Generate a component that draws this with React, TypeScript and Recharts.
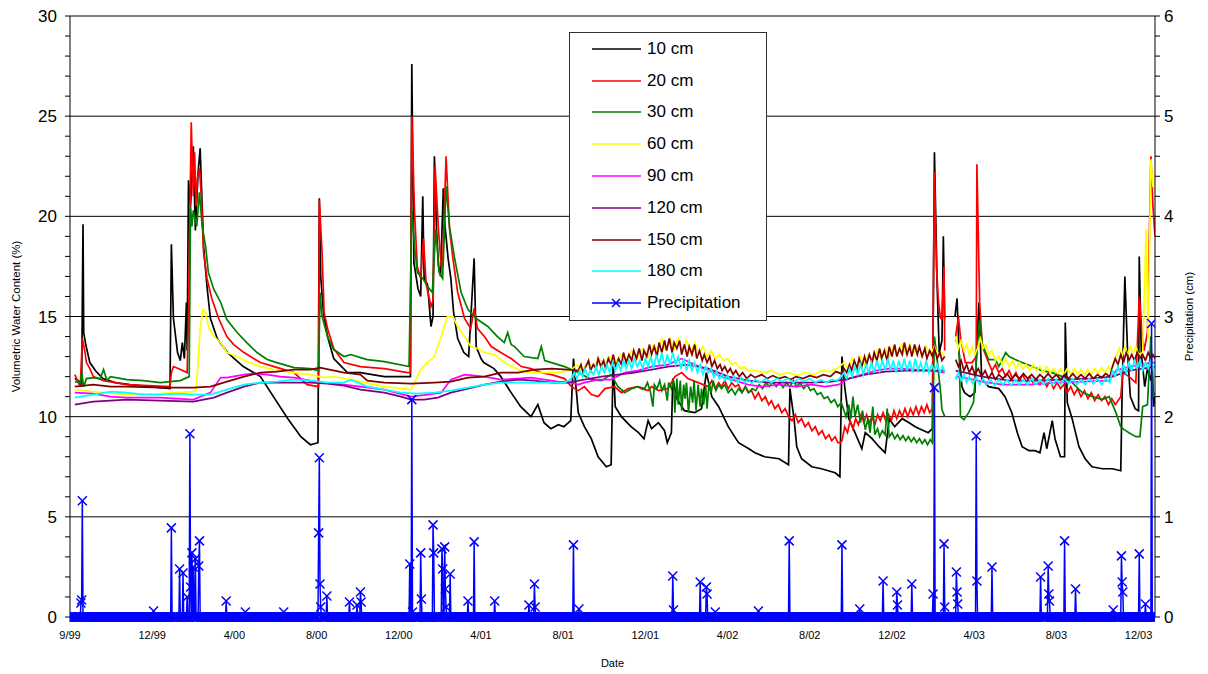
import React from "react";
import { LineChart, Line, XAxis, YAxis, CartesianGrid, Legend } from "recharts";

const FONT = '"Liberation Sans", Arial, sans-serif';

// x axis: days since 1 Sep 1999, a label every 120 days
const dateLabels = ["9/99", "12/99", "4/00", "8/00", "12/00", "4/01", "8/01", "12/01", "4/02", "8/02", "12/02", "4/03", "8/03", "12/03"];
const dateTicks = dateLabels.map((_, i) => i * 120);
const LAST_DAY = 1584;

type Pt = [number, number | null];

// volumetric water content (%) by depth: [day, value]
const vwc10: Pt[] = [
  [7, 11.9], [12, 11.8], [17, 11.6], [19, 19.6], [20, 14.2], [23, 13.6], [29, 12.7], [37, 12.3], [48, 11.9], [66, 11.7], [88, 11.6], [117, 11.5], [146, 11.4],
  [148, 18.6], [151, 14.9], [157, 13.2], [161, 12.8], [164, 13.7], [167, 12.9], [170, 15.7], [171, 13.3], [173, 21.8], [176, 20.5], [180, 23.5], [183, 19.3],
  [187, 22.2], [190, 23.4], [193, 20.5], [195, 18.5], [200, 16.5], [205, 14.9], [215, 13.9], [230, 13.2], [253, 12.5], [278, 12.0], [297, 11.0], [318, 9.9],
  [337, 9.0], [351, 8.6], [362, 8.7], [364, 20.9], [366, 17.0], [370, 15.2], [376, 14.0], [385, 12.9], [405, 12.2], [424, 12.2], [459, 12.0], [497, 12.0],
  [499, 27.6], [502, 17.7], [508, 16.4], [512, 16.0], [515, 21.0], [517, 16.9], [522, 16.6], [527, 14.5], [530, 15.0], [532, 23.0], [535, 19.4], [538, 17.5],
  [541, 17.0], [545, 21.4], [547, 19.7], [552, 17.9], [556, 16.9], [560, 15.2], [566, 13.9], [575, 13.2], [582, 13.0], [590, 17.9], [593, 13.5], [600, 12.9],
  [604, 12.7], [619, 12.4], [629, 12.0], [644, 11.2], [658, 10.5], [673, 10.0], [683, 10.6], [692, 9.7], [702, 9.4], [713, 9.6], [721, 9.5], [731, 9.8],
  [735, 12.9], [742, 10.2], [751, 9.5], [761, 8.9], [771, 8.0], [783, 7.5], [790, 7.6], [793, 12.8], [796, 10.5], [805, 10.0], [819, 9.5], [830, 9.2],
  [838, 8.9], [844, 9.8], [849, 9.4], [859, 9.7], [868, 9.3], [872, 8.7], [878, 9.2], [880, 11.9], [886, 10.9], [897, 10.3], [912, 10.2], [922, 10.4],
  [929, 12.2], [937, 11.0], [947, 10.5], [961, 9.5], [976, 8.7], [991, 8.4], [1000, 8.2], [1014, 8.0], [1035, 7.9], [1049, 7.6], [1051, 11.4], [1057, 9.9],
  [1061, 8.5], [1068, 7.9], [1083, 7.5], [1097, 7.4], [1117, 7.2], [1124, 7.0], [1127, 13.0], [1131, 11.5], [1137, 9.9], [1146, 9.2], [1156, 8.4], [1161, 9.2],
  [1171, 8.9], [1181, 8.5], [1190, 8.2], [1196, 9.9], [1204, 9.5], [1215, 9.9], [1225, 9.7], [1234, 9.5], [1240, 9.4], [1253, 9.2], [1259, 9.4], [1262, 23.2],
  [1266, 16.5], [1269, 13.2], [1273, 13.8], [1275, 19.0], [1277, 14.9], [1285, null], [1292, 15.0], [1295, 15.9], [1298, 13.2], [1302, 11.5], [1306, 11.2],
  [1314, 11.0], [1321, 11.2], [1324, 13.5], [1327, 15.7], [1331, 11.9], [1341, 11.5], [1356, 11.4], [1365, 11.0], [1375, 10.2], [1383, 9.2], [1390, 8.5],
  [1400, 8.3], [1409, 8.3], [1416, 8.2], [1422, 9.2], [1426, 8.4], [1434, 9.8], [1438, 8.9], [1446, 8.0], [1452, 8.0], [1453, 14.7], [1456, 10.7], [1463, 9.9],
  [1473, 8.5], [1482, 7.9], [1492, 7.5], [1507, 7.4], [1522, 7.4], [1534, 7.3], [1536, 11.2], [1540, 17.0], [1544, 13.2], [1548, 11.0], [1555, 10.4],
  [1560, 10.3], [1561, 18.0], [1564, 13.2], [1569, 11.5], [1573, 12.4], [1578, 11.8], [1580, 12.5], [1582, 10.5], [1584, 11.0],
];

const vwc20: Pt[] = [
  [7, 12.1], [15, 11.5], [18, 13.9], [22, 13.2], [24, 12.7], [29, 12.4], [34, 12.0], [49, 11.8], [83, 11.6], [146, 11.5], [148, 12.2], [151, 12.5], [158, 12.4],
  [171, 12.2], [173, 15.0], [177, 24.7], [180, 21.0], [182, 23.2], [184, 20.5], [186, 21.9], [189, 22.4], [192, 20.8], [195, 18.2], [200, 16.9], [207, 15.9],
  [217, 14.9], [229, 14.0], [239, 13.6], [254, 13.2], [278, 12.7], [298, 12.5], [327, 12.2], [346, 11.6], [363, 11.5], [364, 20.8], [368, 18.2], [371, 15.2],
  [376, 14.4], [385, 13.4], [400, 12.7], [424, 12.5], [459, 12.4], [493, 12.2], [497, 12.2], [499, 25.0], [503, 20.2], [507, 17.5], [512, 16.9], [516, 18.9],
  [520, 16.6], [527, 15.5], [530, 15.8], [533, 22.5], [538, 19.3], [542, 17.5], [544, 17.5], [549, 23.0], [554, 19.4], [559, 17.9], [566, 16.2], [576, 14.9],
  [585, 14.4], [590, 15.4], [595, 14.4], [605, 14.0], [615, 13.5], [629, 13.2], [644, 12.9], [659, 12.5], [673, 12.4], [688, 12.2], [703, 12.1], [722, 11.9],
  [732, 11.5], [742, 11.3], [751, 11.5], [761, 11.1], [771, 11.0], [781, 11.4], [795, 11.5], [805, 11.2], [815, 11.4], [829, 11.5], [834, 11.4], [844, 11.3],
  [849, 11.5], [859, 11.3], [873, 11.4], [883, 12.0], [893, 12.2], [902, 11.9], [917, 11.7], [932, 11.5], [937, 11.8], [942, 11.4], [947, 11.7], [951, 11.5],
  [956, 11.8], [961, 11.4], [966, 11.7], [971, 11.5], [976, 11.6], [981, 11.2], [986, 11.5], [990, 11.2], [995, 11.3], [1000, 10.9], [1005, 11.2], [1010, 10.8],
  [1015, 11.0], [1020, 10.6], [1024, 10.8], [1029, 10.4], [1034, 10.6], [1039, 10.2], [1044, 10.4], [1049, 10.0], [1054, 9.8], [1059, 10.1], [1063, 9.7],
  [1068, 9.9], [1073, 9.5], [1078, 9.7], [1083, 9.3], [1088, 9.5], [1093, 9.1], [1098, 9.3], [1103, 8.9], [1108, 9.1], [1112, 8.8], [1117, 9.0], [1121, 8.7],
  [1124, 8.7], [1127, 8.8], [1131, 9.5], [1135, 9.2], [1139, 9.8], [1143, 9.4], [1147, 9.9], [1151, 9.6], [1155, 10.1], [1159, 9.7], [1163, 10.1], [1167, 9.7],
  [1171, 10.0], [1175, 9.6], [1179, 10.1], [1183, 9.8], [1187, 10.2], [1191, 9.8], [1195, 10.1], [1199, 9.8], [1203, 10.3], [1207, 9.9], [1211, 10.3],
  [1215, 10.0], [1219, 10.4], [1223, 10.0], [1227, 10.4], [1231, 10.1], [1235, 10.5], [1239, 10.1], [1243, 10.5], [1247, 10.2], [1251, 10.6], [1255, 10.2],
  [1259, 10.4], [1262, 22.2], [1265, 17.4], [1268, 15.7], [1271, 14.9], [1273, 14.9], [1276, 17.5], [1277, 13.3], [1285, null], [1293, 14.0], [1297, 15.0],
  [1300, 14.0], [1307, 12.7], [1317, 12.7], [1323, 13.0], [1324, 22.6], [1328, 15.7], [1332, 13.5], [1341, 12.7], [1346, 12.3], [1351, 12.6], [1356, 12.2],
  [1361, 12.4], [1366, 12.0], [1371, 12.3], [1376, 11.9], [1381, 12.2], [1386, 11.8], [1391, 12.1], [1396, 11.7], [1401, 12.0], [1406, 11.7], [1411, 11.9],
  [1416, 11.6], [1421, 11.9], [1426, 11.5], [1431, 11.8], [1436, 11.4], [1441, 11.7], [1446, 11.4], [1451, 11.6], [1456, 11.2], [1461, 11.5], [1466, 11.1],
  [1471, 11.4], [1476, 11.0], [1481, 11.3], [1486, 10.9], [1491, 11.2], [1496, 10.8], [1501, 11.1], [1506, 10.8], [1511, 11.0], [1516, 10.6], [1521, 10.9],
  [1526, 10.6], [1530, 10.8], [1534, 11.0], [1537, 12.2], [1546, 12.0], [1556, 11.7], [1561, 16.0], [1565, 14.2], [1568, 13.3], [1573, 14.2], [1578, 23.0],
  [1581, 20.5], [1584, 19.0],
];

const vwc30: Pt[] = [
  [7, 11.75], [15, 11.7], [17, 12.2], [20, 11.5], [24, 11.9], [34, 11.95], [44, 11.9], [49, 12.35], [54, 11.8], [59, 12.0], [83, 11.85], [107, 11.8], [132, 11.7],
  [146, 11.75], [161, 11.8], [174, 12.0], [176, 20.5], [178, 19.5], [180, 20.3], [183, 19.8], [185, 19.5], [189, 21.2], [193, 19.5], [198, 18.5], [202, 17.2],
  [210, 16.35], [220, 15.7], [229, 14.85], [244, 14.2], [258, 13.7], [273, 13.2], [288, 12.85], [302, 12.7], [327, 12.45], [351, 12.4], [363, 12.3], [365, 16.2],
  [368, 15.0], [376, 14.0], [385, 13.35], [400, 13.0], [410, 13.1], [424, 12.95], [434, 12.85], [459, 12.75], [495, 12.5], [499, 20.35], [503, 18.5], [507, 17.2],
  [515, 16.9], [522, 16.5], [529, 16.2], [534, 19.35], [539, 17.2], [544, 16.9], [549, 21.5], [554, 19.5], [561, 18.0], [571, 16.2], [581, 15.35], [595, 14.85],
  [610, 14.5], [624, 14.0], [634, 13.7], [639, 14.2], [644, 13.6], [649, 13.5], [663, 13.0], [683, 12.9], [688, 13.5], [693, 12.8], [703, 12.7], [722, 12.5],
  [742, 12.2], [761, 11.85], [776, 11.8], [790, 12.1], [800, 11.5], [810, 11.2], [820, 11.4], [829, 11.5], [839, 11.4], [843, 11.7], [847, 11.3], [851, 10.5],
  [853, 11.6], [857, 11.4], [861, 11.8], [864, 11.3], [868, 11.6], [872, 10.8], [874, 11.7], [878, 11.4], [881, 11.8], [883, 10.2], [886, 11.9], [888, 10.6],
  [891, 11.8], [893, 10.3], [896, 11.6], [898, 10.9], [900, 11.7], [903, 10.2], [906, 11.5], [909, 10.7], [911, 11.8], [914, 10.3], [917, 11.6], [920, 10.5],
  [922, 11.4], [925, 10.6], [928, 11.5], [930, 10.4], [933, 11.7], [936, 11.2], [939, 11.8], [943, 11.3], [947, 11.6], [951, 11.4], [956, 11.6], [961, 11.2],
  [966, 11.4], [971, 11.1], [976, 11.4], [981, 11.2], [986, 11.5], [991, 11.2], [996, 11.4], [1001, 11.3], [1006, 11.6], [1011, 11.4], [1016, 11.7], [1021, 11.5],
  [1026, 11.75], [1031, 11.5], [1036, 11.7], [1041, 11.45], [1046, 11.7], [1051, 11.5], [1056, 11.8], [1061, 11.5], [1066, 11.7], [1071, 11.4], [1076, 11.6],
  [1081, 11.3], [1086, 11.4], [1091, 11.1], [1096, 11.2], [1101, 10.9], [1106, 11.0], [1111, 10.7], [1116, 10.85], [1121, 10.5], [1126, 10.7], [1129, 10.4],
  [1133, 10.0], [1137, 10.6], [1140, 9.9], [1143, 11.0], [1146, 10.0], [1150, 10.6], [1154, 9.7], [1157, 10.3], [1161, 9.35], [1165, 9.9], [1168, 9.2],
  [1172, 10.5], [1175, 9.1], [1179, 9.4], [1182, 9.0], [1186, 9.3], [1190, 9.1], [1193, 10.4], [1196, 9.0], [1200, 9.2], [1204, 8.9], [1208, 9.1], [1212, 8.85],
  [1216, 9.05], [1220, 8.8], [1224, 9.0], [1228, 8.75], [1232, 8.95], [1236, 8.7], [1240, 8.9], [1244, 8.65], [1248, 8.85], [1252, 8.6], [1256, 8.85], [1259, 8.7],
  [1262, 14.0], [1266, 12.85], [1271, 11.2], [1273, 10.35], [1277, 10.0], [1285, null], [1293, 13.85], [1298, 13.5], [1300, 10.0], [1305, 9.85], [1312, 10.2],
  [1319, 10.7], [1324, 13.2], [1328, 14.85], [1332, 13.6], [1341, 12.85], [1351, 12.85], [1356, 12.5], [1366, 13.2], [1371, 13.0], [1380, 12.85], [1390, 12.7],
  [1405, 12.5], [1419, 12.3], [1434, 12.2], [1449, 12.0], [1463, 11.7], [1478, 11.2], [1493, 11.0], [1507, 10.85], [1517, 11.0], [1527, 10.2], [1534, 9.5],
  [1539, 9.35], [1546, 9.2], [1556, 9.0], [1562, 9.0], [1566, 10.5], [1573, 10.6], [1578, 14.0], [1581, 11.0], [1584, 11.2],
];

const vwc60: Pt[] = [
  [7, 11.35], [34, 11.25], [83, 11.1], [132, 11.15], [180, 11.25], [184, 11.3], [188, 13.2], [190, 14.35], [194, 15.35], [198, 15.2], [202, 14.5], [210, 14.0],
  [220, 13.7], [229, 13.2], [244, 13.0], [258, 12.75], [278, 12.5], [298, 12.35], [327, 12.2], [351, 12.1], [370, 11.95], [385, 12.0], [410, 11.85], [459, 11.5],
  [498, 11.35], [505, 11.85], [512, 12.35], [522, 12.7], [532, 13.0], [542, 14.0], [551, 15.0], [559, 15.0], [566, 14.5], [576, 14.0], [585, 13.5], [595, 13.4],
  [605, 13.2], [620, 13.1], [634, 12.7], [654, 12.35], [673, 12.2], [693, 12.2], [712, 12.2], [732, 12.35], [740, 12.6], [748, 12.3], [756, 12.7], [764, 12.5],
  [772, 12.9], [780, 12.6], [788, 13.0], [796, 12.7], [804, 13.1], [812, 12.8], [820, 13.3], [828, 12.9], [836, 13.4], [844, 13.0], [852, 13.6], [858, 13.2],
  [864, 13.9], [870, 13.3], [876, 13.9], [882, 13.4], [888, 13.9], [894, 13.3], [900, 13.8], [906, 13.2], [912, 13.7], [918, 13.1], [924, 13.5], [930, 13.0],
  [936, 13.3], [942, 12.9], [948, 13.1], [954, 12.8], [960, 12.9], [966, 12.6], [972, 12.7], [978, 12.4], [984, 12.5], [990, 12.3], [1000, 12.3], [1012, 12.2],
  [1024, 12.3], [1036, 12.1], [1049, 12.2], [1061, 12.05], [1073, 12.2], [1086, 12.1], [1098, 12.3], [1110, 12.25], [1122, 12.45], [1130, 12.7], [1136, 12.4],
  [1142, 12.9], [1148, 12.5], [1154, 13.0], [1160, 12.6], [1166, 13.1], [1172, 12.8], [1178, 13.3], [1184, 12.9], [1190, 13.4], [1196, 13.0], [1202, 13.5],
  [1208, 13.1], [1214, 13.6], [1220, 13.2], [1226, 13.6], [1232, 13.2], [1238, 13.5], [1244, 13.1], [1250, 13.5], [1256, 13.1], [1262, 13.5], [1268, 13.0],
  [1273, 13.2], [1277, 13.0], [1285, null], [1293, 14.0], [1297, 13.4], [1301, 13.8], [1305, 13.3], [1309, 13.6], [1313, 13.1], [1317, 13.5], [1321, 13.1],
  [1325, 13.4], [1329, 13.9], [1333, 13.4], [1337, 13.6], [1341, 13.1], [1346, 13.3], [1351, 12.8], [1356, 13.0], [1361, 12.6], [1366, 12.9], [1371, 12.5],
  [1376, 12.8], [1381, 12.4], [1386, 12.7], [1391, 12.4], [1396, 12.6], [1401, 12.3], [1406, 12.6], [1411, 12.3], [1416, 12.5], [1421, 12.2], [1426, 12.5],
  [1431, 12.2], [1436, 12.4], [1441, 12.1], [1446, 12.4], [1451, 12.1], [1456, 12.4], [1461, 12.1], [1466, 12.4], [1471, 12.1], [1476, 12.35], [1481, 12.1],
  [1486, 12.35], [1491, 12.1], [1496, 12.4], [1501, 12.15], [1506, 12.45], [1511, 12.2], [1516, 12.5], [1520, 12.3], [1524, 12.8], [1528, 13.1], [1532, 13.4],
  [1536, 13.0], [1540, 13.5], [1544, 13.1], [1548, 13.5], [1552, 13.2], [1556, 13.5], [1560, 13.1], [1566, 13.2], [1571, 19.35], [1574, 13.9], [1578, 22.85],
  [1581, 21.5], [1584, 21.3],
];

const vwc90: Pt[] = [
  [7, 11.2], [34, 11.15], [59, 11.0], [83, 10.95], [132, 10.95], [180, 10.85], [205, 11.2], [220, 11.95], [229, 11.95], [254, 12.1], [268, 12.15], [288, 12.1],
  [307, 12.0], [327, 11.95], [365, 11.7], [400, 11.6], [424, 11.5], [459, 11.35], [498, 11.0], [522, 11.1], [542, 11.2], [556, 11.85], [576, 12.1], [605, 12.0],
  [629, 11.85], [654, 11.9], [673, 11.95], [693, 11.85], [712, 11.75], [732, 11.7], [742, 11.6], [751, 11.7], [771, 11.85], [790, 11.85], [810, 12.2], [829, 12.3],
  [849, 12.5], [873, 12.6], [893, 12.9], [912, 12.6], [932, 12.3], [951, 12.0], [971, 11.8], [990, 11.6], [1010, 11.5], [1034, 11.6], [1059, 11.5], [1083, 11.6],
  [1102, 11.5], [1122, 11.6], [1137, 11.9], [1156, 12.1], [1176, 12.3], [1195, 12.4], [1215, 12.4], [1234, 12.35], [1259, 12.3], [1277, 12.2], [1285, null],
  [1293, 12.0], [1312, 11.9], [1332, 11.75], [1361, 11.6], [1400, 11.6], [1439, 11.7], [1478, 11.75], [1517, 11.8], [1527, 12.3], [1546, 12.5], [1566, 12.6],
  [1578, 12.7], [1584, 12.7],
];

const vwc120: Pt[] = [
  [7, 10.6], [34, 10.75], [59, 10.8], [83, 10.85], [132, 10.8], [180, 10.75], [210, 10.95], [229, 11.2], [254, 11.5], [278, 11.7], [327, 11.7], [351, 11.7],
  [376, 11.65], [400, 11.55], [424, 11.35], [459, 11.2], [483, 11.0], [498, 10.85], [517, 10.85], [537, 10.95], [556, 11.2], [581, 11.4], [605, 11.6], [629, 11.75],
  [654, 11.85], [678, 11.8], [703, 11.7], [727, 11.7], [751, 11.85], [776, 12.0], [800, 12.1], [824, 12.2], [849, 12.35], [873, 12.5], [902, 12.6], [932, 12.4],
  [961, 12.0], [990, 11.8], [1020, 11.7], [1049, 11.7], [1083, 11.7], [1112, 11.75], [1137, 11.9], [1161, 12.1], [1190, 12.25], [1220, 12.3], [1259, 12.3],
  [1277, 12.3], [1285, null], [1293, 12.3], [1332, 12.0], [1371, 11.8], [1410, 11.8], [1449, 11.85], [1488, 11.9], [1522, 12.0], [1546, 12.3], [1566, 12.4], [1584, 12.5],
];

const vwc150: Pt[] = [
  [7, 11.5], [34, 11.6], [59, 11.5], [83, 11.5], [132, 11.45], [180, 11.45], [205, 11.5], [229, 11.75], [254, 12.0], [278, 12.2], [302, 12.25], [327, 12.35],
  [351, 12.35], [365, 12.45], [400, 12.2], [424, 12.1], [434, 11.8], [459, 11.7], [498, 11.65], [532, 11.7], [556, 11.75], [581, 11.95], [605, 12.0], [629, 12.2],
  [654, 12.2], [678, 12.35], [703, 12.4], [727, 12.35], [742, 12.3], [746, 12.6], [749, 12.2], [753, 12.5], [757, 12.8], [760, 12.3], [764, 12.6], [768, 12.4],
  [771, 12.9], [775, 12.5], [779, 12.8], [782, 12.4], [786, 12.9], [790, 12.6], [793, 13.1], [797, 12.5], [801, 12.9], [805, 12.6], [808, 13.2], [812, 12.7],
  [816, 13.1], [820, 12.8], [823, 13.3], [827, 12.9], [831, 13.4], [835, 12.8], [838, 13.3], [842, 13.0], [846, 13.6], [849, 13.1], [853, 13.5], [857, 13.0],
  [860, 13.7], [864, 13.2], [868, 13.8], [871, 13.3], [875, 13.9], [879, 13.2], [882, 13.7], [886, 13.4], [890, 13.8], [893, 13.1], [897, 13.6], [901, 13.0],
  [904, 13.5], [908, 13.1], [912, 13.6], [915, 12.9], [919, 13.3], [923, 12.8], [926, 13.1], [930, 12.7], [934, 13.0], [937, 12.5], [941, 12.8], [945, 12.4],
  [949, 12.6], [952, 12.3], [956, 12.5], [960, 12.2], [964, 12.4], [968, 12.1], [972, 12.3], [977, 12.0], [982, 12.2], [988, 11.9], [994, 12.1], [1000, 11.95],
  [1010, 12.1], [1018, 11.9], [1026, 12.05], [1035, 11.9], [1044, 12.0], [1052, 11.85], [1060, 12.0], [1070, 11.9], [1080, 12.05], [1090, 11.95], [1100, 12.1],
  [1110, 12.0], [1118, 12.25], [1126, 12.15], [1130, 12.4], [1134, 12.2], [1138, 12.6], [1141, 12.3], [1145, 12.8], [1149, 12.4], [1152, 12.9], [1156, 12.5],
  [1160, 13.0], [1163, 12.6], [1167, 13.1], [1171, 12.7], [1174, 13.2], [1178, 12.8], [1182, 13.4], [1185, 12.9], [1189, 13.3], [1193, 12.8], [1196, 13.5],
  [1200, 13.0], [1204, 13.6], [1207, 13.0], [1211, 13.4], [1215, 13.1], [1218, 13.7], [1222, 13.1], [1226, 13.5], [1229, 13.0], [1233, 13.6], [1237, 13.1],
  [1240, 13.5], [1244, 13.0], [1248, 13.4], [1251, 12.9], [1255, 13.3], [1259, 13.0], [1262, 13.4], [1266, 12.9], [1270, 13.2], [1273, 12.8], [1277, 13.0],
  [1285, null], [1293, 12.85], [1297, 12.5], [1301, 12.8], [1305, 12.3], [1309, 12.6], [1313, 12.2], [1317, 12.5], [1321, 12.1], [1326, 12.4], [1331, 12.0],
  [1336, 12.3], [1341, 11.9], [1346, 12.2], [1351, 11.85], [1356, 12.1], [1362, 11.9], [1368, 12.15], [1374, 11.85], [1380, 12.1], [1386, 11.9], [1392, 12.15],
  [1398, 11.9], [1404, 12.1], [1410, 11.85], [1416, 12.1], [1422, 11.9], [1428, 12.15], [1434, 11.9], [1440, 12.1], [1446, 11.85], [1452, 12.1], [1458, 11.9],
  [1464, 12.15], [1470, 11.9], [1476, 12.1], [1482, 11.9], [1488, 12.15], [1494, 11.9], [1500, 12.1], [1506, 11.95], [1512, 12.15], [1518, 12.0], [1522, 12.5],
  [1526, 12.9], [1530, 12.6], [1534, 13.1], [1538, 12.7], [1542, 13.2], [1546, 12.8], [1550, 13.1], [1554, 12.8], [1558, 13.2], [1562, 12.9], [1566, 13.1],
  [1570, 12.8], [1574, 13.2], [1578, 12.9], [1581, 13.1], [1584, 12.9],
];

const vwc180: Pt[] = [
  [7, 10.95], [34, 11.1], [59, 11.25], [83, 11.2], [107, 11.1], [132, 11.1], [156, 11.15], [180, 11.1], [205, 11.1], [229, 11.35], [254, 11.6], [278, 11.7],
  [302, 11.75], [327, 11.85], [351, 11.8], [376, 11.7], [400, 11.7], [410, 11.85], [434, 11.5], [459, 11.35], [483, 11.2], [507, 11.15], [532, 11.2], [556, 11.3],
  [581, 11.45], [605, 11.6], [629, 11.7], [654, 11.7], [678, 11.7], [703, 11.7], [722, 11.7], [732, 11.9], [736, 12.2], [740, 11.9], [744, 12.3], [748, 12.0],
  [752, 12.4], [756, 12.0], [760, 12.3], [764, 12.1], [768, 12.5], [772, 12.1], [776, 12.5], [780, 12.2], [784, 12.6], [788, 12.2], [792, 12.7], [796, 12.3],
  [800, 12.7], [804, 12.3], [808, 12.8], [812, 12.4], [816, 12.8], [820, 12.4], [824, 12.9], [828, 12.5], [832, 12.8], [836, 12.4], [840, 12.9], [844, 12.5],
  [848, 13.0], [852, 12.4], [856, 13.1], [860, 12.6], [864, 13.2], [868, 12.5], [872, 13.1], [876, 12.6], [880, 13.2], [884, 12.6], [888, 13.0], [892, 12.4],
  [896, 12.9], [900, 12.3], [904, 12.8], [908, 12.3], [912, 12.7], [916, 12.2], [920, 12.6], [924, 12.1], [928, 12.5], [932, 12.2], [936, 12.4], [940, 11.95],
  [944, 12.25], [948, 11.9], [952, 12.1], [956, 11.8], [960, 12.05], [965, 11.75], [970, 12.0], [975, 11.7], [980, 11.95], [985, 11.7], [990, 11.9], [995, 11.65],
  [1000, 11.85], [1008, 11.7], [1016, 11.9], [1024, 11.7], [1032, 11.9], [1040, 11.75], [1048, 11.9], [1056, 11.7], [1064, 11.9], [1072, 11.75], [1080, 11.9],
  [1088, 11.7], [1096, 11.85], [1104, 11.7], [1112, 11.85], [1120, 11.8], [1126, 12.0], [1130, 12.2], [1134, 11.9], [1138, 12.4], [1142, 12.0], [1146, 12.5],
  [1150, 12.1], [1154, 12.6], [1158, 12.1], [1162, 12.6], [1166, 12.2], [1170, 12.7], [1174, 12.2], [1178, 12.8], [1182, 12.3], [1186, 12.8], [1190, 12.3],
  [1194, 12.9], [1198, 12.3], [1202, 12.8], [1206, 12.2], [1210, 12.8], [1214, 12.3], [1218, 12.9], [1222, 12.3], [1226, 12.8], [1230, 12.2], [1234, 12.9],
  [1238, 12.3], [1242, 12.7], [1246, 12.2], [1250, 12.8], [1254, 12.2], [1258, 12.6], [1262, 12.3], [1266, 12.6], [1270, 12.2], [1274, 12.5], [1277, 12.2],
  [1285, null], [1293, 11.85], [1297, 12.2], [1301, 11.8], [1305, 12.1], [1309, 11.7], [1313, 12.0], [1318, 11.65], [1323, 11.95], [1328, 11.6], [1333, 11.9],
  [1338, 11.6], [1344, 11.85], [1350, 11.55], [1356, 11.85], [1362, 11.6], [1368, 11.85], [1374, 11.55], [1380, 11.85], [1386, 11.6], [1392, 11.85], [1398, 11.6],
  [1404, 11.9], [1410, 11.6], [1416, 11.85], [1422, 11.6], [1428, 11.9], [1434, 11.6], [1440, 11.85], [1446, 11.6], [1452, 11.9], [1458, 11.65], [1464, 11.9],
  [1470, 11.6], [1476, 11.85], [1482, 11.6], [1488, 11.9], [1494, 11.65], [1500, 11.9], [1506, 11.6], [1512, 11.9], [1518, 11.7], [1522, 12.3], [1526, 12.0],
  [1530, 12.5], [1534, 12.1], [1538, 12.6], [1542, 12.2], [1546, 12.7], [1550, 12.3], [1554, 12.8], [1558, 12.4], [1562, 12.8], [1566, 12.3], [1570, 12.7],
  [1574, 12.4], [1578, 12.8], [1581, 12.4], [1584, 12.6],
];

// daily precipitation (cm): days with rain, all other days are 0
const rainDays = [
  16, 17, 18, 122, 148, 160, 165, 171, 175, 176, 178, 180, 183, 188, 189, 228, 256, 312, 363, 364, 365, 366, 375, 408, 419, 424, 425,
  496, 499, 500, 512, 513, 530, 531, 543, 544, 547, 548, 549, 555, 581, 590, 620, 670, 678, 679, 735, 743, 880, 881, 920, 929, 930,
  942, 1005, 1050, 1127, 1153, 1187, 1207, 1208, 1229, 1260, 1262, 1276, 1277, 1294, 1295, 1296, 1323, 1324, 1346, 1417, 1428, 1429,
  1430, 1452, 1468, 1523, 1535, 1536, 1537, 1561, 1570, 1579,
];
const rainCm = [
  0.14, 0.17, 1.16, 0.06, 0.89, 0.48, 0.44, 0.2, 1.83, 0.3, 0.64, 0.5, 0.58, 0.51, 0.76, 0.16, 0.05, 0.05, 0.84, 1.59, 0.33, 0.1, 0.21, 0.15, 0.12, 0.25, 0.15,
  0.53, 2.17, 0.05, 0.64, 0.18, 0.92, 0.64, 0.68, 0.48, 0.7, 0.28, 0.1, 0.43, 0.16, 0.75, 0.16, 0.12, 0.33, 0.1, 0.72, 0.08, 0.41, 0.07, 0.35, 0.3, 0.23,
  0.05, 0.06, 0.76, 0.72, 0.08, 0.36, 0.25, 0.12, 0.33, 0.23, 2.29, 0.73, 0.1, 0.45, 0.25, 0.13, 1.81, 0.36, 0.5, 0.4, 0.51, 0.23,
  0.16, 0.76, 0.28, 0.07, 0.61, 0.35, 0.25, 0.63, 0.13, 2.93,
];

const series = [
  { name: "10 cm", color: "#000000", pts: vwc10 },
  { name: "20 cm", color: "#FF0000", pts: vwc20 },
  { name: "30 cm", color: "#008000", pts: vwc30 },
  { name: "60 cm", color: "#FFFF00", pts: vwc60 },
  { name: "90 cm", color: "#FF00FF", pts: vwc90 },
  { name: "120 cm", color: "#800080", pts: vwc120 },
  { name: "150 cm", color: "#800000", pts: vwc150 },
  { name: "180 cm", color: "#00FFFF", pts: vwc180 },
];

const rainByDay = new Map(rainDays.map((d, i) => [d, rainCm[i]]));
const precipRows = Array.from({ length: LAST_DAY + 1 }, (_, day) => ({ day, p: rainByDay.get(day) ?? 0 }));
const toRows = (pts: Pt[]) => pts.map(([day, v]) => ({ day, v }));

const W = 1208;
const H = 674;
const PLOT_TOP = 16;
const PLOT_BOTTOM = 617;
const gridY = [5, 10, 15, 20, 25, 30].map((v) => PLOT_TOP + ((30 - v) / 30) * (PLOT_BOTTOM - PLOT_TOP));
const leftTicks = Array.from({ length: 31 }, (_, i) => i);
const rightTicks = Array.from({ length: 31 }, (_, i) => Math.round(i * 2) / 10);

function Cross(props: any) {
  const { cx, cy, index } = props;
  if (cx == null || cy == null) return <g key={index} />;
  const r = 4.5;
  return (
    <path
      key={index}
      d={`M${cx - r},${cy - r}L${cx + r},${cy + r}M${cx - r},${cy + r}L${cx + r},${cy - r}`}
      stroke="#0000FF"
      strokeWidth={1.5}
      fill="none"
    />
  );
}

function LegendBox() {
  const rows = [...series.map((s) => ({ name: s.name, color: s.color, cross: false })), { name: "Precipitation", color: "#0000FF", cross: true }];
  return (
    <div style={{ width: 198, height: 289, border: "1px solid #333", background: "#fff", boxSizing: "border-box", fontFamily: FONT, fontSize: 17, color: "#000" }}>
      {rows.map((r) => (
        <div key={r.name} style={{ display: "flex", alignItems: "center", height: 31.8 }}>
          <svg width={76} height={14} style={{ flex: "none" }}>
            <line x1={22} y1={7} x2={71} y2={7} stroke={r.color} strokeWidth={1.5} />
            {r.cross && <path d="M42,3L50,11M42,11L50,3" stroke={r.color} strokeWidth={1.5} />}
          </svg>
          <span style={{ marginLeft: 1 }}>{r.name}</span>
        </div>
      ))}
    </div>
  );
}

export default function App() {
  return (
    <div style={{ position: "absolute", left: 0, top: 0, width: W, height: H, background: "#fff" }}>
      <LineChart width={W} height={H} margin={{ top: PLOT_TOP, right: 0, bottom: 0, left: 0 }} style={{ fontFamily: FONT }}>
        <CartesianGrid vertical={false} horizontalPoints={gridY} stroke="#000" strokeWidth={1} />
        <XAxis
          type="number"
          dataKey="day"
          domain={[0, LAST_DAY]}
          ticks={dateTicks}
          interval={0}
          allowDataOverflow
          tickFormatter={(d: number) => dateLabels[Math.round(d / 120)]}
          height={H - PLOT_BOTTOM}
          stroke="#000"
          tick={{ fontSize: 11, fill: "#000" }}
          tickSize={5}
          tickMargin={9}
          label={{ value: "Date", position: "insideBottom", offset: 7, fontSize: 11, fill: "#000" }}
        />
        <YAxis
          yAxisId="left"
          domain={[0, 30]}
          ticks={leftTicks}
          interval={0}
          width={70}
          stroke="#000"
          tick={{ fontSize: 17, fill: "#000" }}
          tickSize={5}
          tickMargin={8}
          tickFormatter={(v: number) => (v % 5 === 0 ? String(v) : "")}
          label={{ value: "Volumetric Water Content (%)", angle: -90, position: "insideLeft", offset: 16, fontSize: 11.5, fill: "#000", style: { textAnchor: "middle" } }}
        />
        <YAxis
          yAxisId="right"
          orientation="right"
          domain={[0, 6]}
          ticks={rightTicks}
          interval={0}
          width={53}
          stroke="#000"
          tick={{ fontSize: 17, fill: "#000" }}
          tickSize={5}
          tickMargin={4}
          tickFormatter={(v: number) => (Math.abs(v - Math.round(v)) < 1e-6 ? String(Math.round(v)) : "")}
          label={{ value: "Precipitation (cm)", angle: -90, position: "insideRight", offset: 19, fontSize: 11.5, fill: "#000", style: { textAnchor: "middle" } }}
        />
        <Legend
          layout="vertical"
          align="center"
          verticalAlign="middle"
          content={() => <LegendBox />}
          wrapperStyle={{ left: 569, top: 32, width: 198, height: 289 }}
        />
        {series.map((s) => (
          <Line
            key={s.name}
            yAxisId="left"
            data={toRows(s.pts)}
            dataKey="v"
            name={s.name}
            stroke={s.color}
            strokeWidth={1.7}
            dot={false}
            isAnimationActive={false}
          />
        ))}
        <Line
          yAxisId="right"
          data={precipRows}
          dataKey="p"
          name="Precipitation"
          stroke="#0000FF"
          strokeWidth={1.5}
          dot={Cross}
          isAnimationActive={false}
        />
      </LineChart>
    </div>
  );
}
